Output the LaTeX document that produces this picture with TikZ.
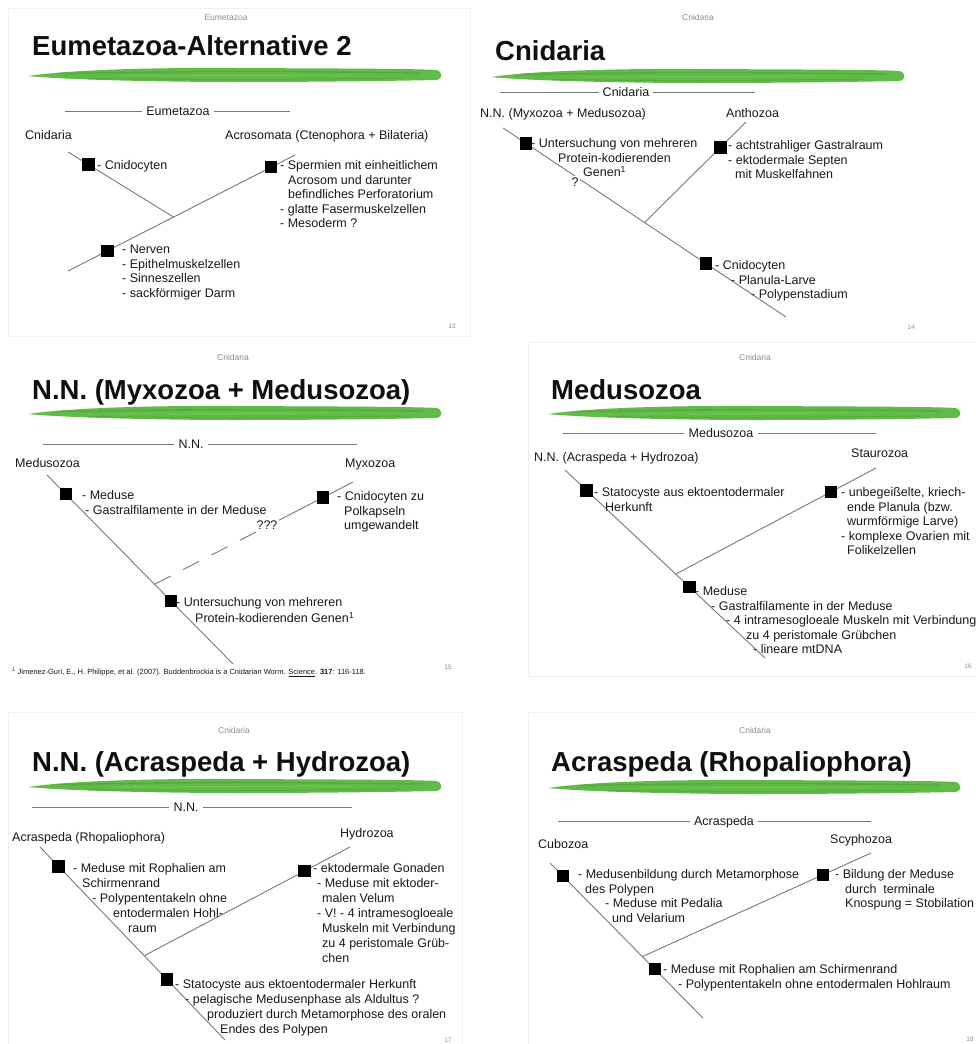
\documentclass[tikz,border=0pt]{standalone}
\usepackage{fontspec}
\setmainfont{Liberation Sans}
\usetikzlibrary{calc}
\definecolor{textc}{RGB}{25,25,25}
\definecolor{titlec}{RGB}{15,15,15}
\definecolor{linec}{RGB}{120,120,120}
\definecolor{hdrc}{RGB}{140,140,140}
\definecolor{brushg}{RGB}{98,186,72}
\definecolor{brushd}{RGB}{72,160,52}
\definecolor{brushl}{RGB}{135,205,105}
\definecolor{framec}{RGB}{240,240,240}
\newcommand\fs{\fontsize{12.5}{14.5}\selectfont}
\newcommand\brushstroke[3]{%
  \fill[brushg] (#1,#3+1) .. controls (#1+40,#3-5) and (#1+120,#3-7.5) .. ({(#1+#2)/2},#3-7) .. controls (#2-120,#3-6.5) and (#2-30,#3-6.5) .. (#2-6,#3-5) .. controls (#2+1,#3-4) and (#2+1,#3+4) .. (#2-5,#3+5) .. controls (#2-80,#3+6.5) and ({(#1+#2)/2+60},#3+7) .. ({(#1+#2)/2},#3+7) .. controls (#1+140,#3+7) and (#1+40,#3+5) .. (#1,#3+1) -- cycle;
  \draw[brushd,line width=1.4pt,opacity=.55] (#1+30,#3-1.5) .. controls ({(#1+#2)/2},#3-4) .. (#2-20,#3-2);
  \draw[brushd,line width=1pt,opacity=.5] (#1+60,#3+3.5) .. controls ({(#1+#2)/2},#3+5) .. (#2-40,#3+3);
  \draw[brushl,line width=1pt,opacity=.5] (#1+90,#3+1) -- (#2-90,#3);
}
\begin{document}
\begin{tikzpicture}[x=1pt,y=-1pt,
  txt/.style={font=\fs,text=textc,inner sep=0pt,anchor=base west,yshift=-4.5pt},
  mtxt/.style={font=\fs,text=textc,inner sep=0pt,anchor=north west,yshift=5.65pt,align=left},
  lbl/.style={font=\fs,text=textc,inner xsep=4pt,inner ysep=0pt,anchor=base,yshift=-4.5pt},
  hdr/.style={font=\fontsize{8.5}{10}\selectfont,text=hdrc,inner sep=0pt,anchor=base,yshift=-3pt},
  ttl/.style={font=\fontsize{27.5}{30}\selectfont\bfseries,text=titlec,inner sep=0pt,anchor=base west},
  pgn/.style={font=\fontsize{6.5}{8}\selectfont,text=hdrc,inner sep=0pt,anchor=base,yshift=-2.3pt},
  fnote/.style={font=\fontsize{7.5}{9}\selectfont,text=textc,inner sep=0pt,anchor=base west,yshift=-2.5pt},
  sq/.style={fill=black,minimum size=12.5pt,inner sep=0pt},
  ln/.style={draw=linec,line width=0.9pt},
  qm/.style={font=\fs,text=textc,fill=white,inner sep=1.5pt},
  slideframe/.style={draw=framec,line width=0.7pt}]
\useasboundingbox[fill=white] (0,0) rectangle (976,1044);

% faint slide frames
\draw[slideframe] (8,8) rectangle (470,336);
\draw[slideframe] (528,342) rectangle (982,676);
\draw[slideframe] (8,712) rectangle (462,1050);
\draw[slideframe] (528,712) rectangle (982,1050);

% ================= Slide 13 =================
\node[hdr] (h13) at (226,17) {Eumetazoa};
\node[ttl] (t13) at (32,55) {Eumetazoa-Alternative 2};
\brushstroke{28}{442}{75}
\coordinate (la13) at (65,111); \coordinate (lb13) at (290,111);
\node[lbl] (l13) at (178,111) {Eumetazoa};
\draw[ln] (la13) -- (la13 -| l13.west);
\draw[ln] (l13.east |- lb13) -- (lb13);
\node[txt] (c13) at (25,135) {Cnidaria};
\node[txt] (d13) at (225,135) {Acrosomata (Ctenophora + Bilateria)};
\coordinate (ma13) at (68,271); \coordinate (mb13) at (295,155);
\coordinate (j13) at ($(ma13)!(173,216)!(mb13)$);
\coordinate (ba13) at (68,152);
\draw[ln] (ma13) -- (mb13);
\draw[ln] (ba13) -- (j13);
\node[sq] (q13a) at ($(ba13)!(88,165)!(j13)$) {};
\node[sq] (q13b) at ($(ma13)!(270,165)!(mb13)$) {};
\node[sq] (q13c) at ($(ma13)!(107,250)!(mb13)$) {};
\node[txt] (e13) at (97,165) {- Cnidocyten};
\node[mtxt] (f13) at (280,165) {\strut- Spermien mit einheitlichem\\\hspace*{8pt}Acrosom und darunter\\\hspace*{8pt}befindliches Perforatorium\\- glatte Fasermuskelzellen\\- Mesoderm ?};
\node[mtxt] (g13) at (122,249) {\strut- Nerven\\- Epithelmuskelzellen\\- Sinneszellen\\- sackförmiger Darm};
\node[pgn] (p13) at (452,326) {13};

% ================= Slide 14 =================
\node[hdr] (h14) at (698,17) {Cnidaria};
\node[ttl] (t14) at (495,60) {Cnidaria};
\brushstroke{491}{905}{76}
\coordinate (la14) at (500,92); \coordinate (lb14) at (755,92);
\node[lbl] (l14) at (626,92) {Cnidaria};
\draw[ln] (la14) -- (la14 -| l14.west);
\draw[ln] (l14.east |- lb14) -- (lb14);
\node[txt] (n14) at (480,113) {N.N. (Myxozoa + Medusozoa)};
\node[txt] (a14) at (726,113) {Anthozoa};
\coordinate (ma14) at (503,128); \coordinate (mb14) at (786,317);
\coordinate (j14) at ($(ma14)!(645,222)!(mb14)$);
\coordinate (ba14) at (746,122);
\draw[ln] (ma14) -- (mb14);
\draw[ln] (ba14) -- (j14);
\node[sq] (q14a) at ($(ma14)!(525,145)!(mb14)$) {};
\node[sq] (q14b) at ($(ba14)!(718,145)!(j14)$) {};
\node[sq] (q14c) at ($(ma14)!(705,265)!(mb14)$) {};
\node[mtxt] (e14) at (531,143) {\strut- Untersuchung von mehreren\\\hspace*{27pt}Protein-kodierenden\\\hspace*{52pt}Genen\textsuperscript{1}};
\node[qm] (k14) at (575,182) {?};
\node[mtxt] (f14) at (728,145) {\strut- achtstrahliger Gastralraum\\- ektodermale Septen\\\hspace*{7pt}mit Muskelfahnen};
\node[mtxt] (g14) at (715,265) {\strut- Cnidocyten\\\hspace*{16pt}- Planula-Larve\\\hspace*{36pt}- Polypenstadium};
\node[pgn] (p14) at (911,327) {14};

% ================= Slide 15 =================
\node[hdr] (h15) at (233,357) {Cnidaria};
\node[ttl] (t15) at (32,399) {N.N. (Myxozoa + Medusozoa)};
\brushstroke{28}{442}{413}
\coordinate (la15) at (43,444); \coordinate (lb15) at (357,444);
\node[lbl] (l15) at (191,444) {N.N.};
\draw[ln] (la15) -- (la15 -| l15.west);
\draw[ln] (l15.east |- lb15) -- (lb15);
\node[txt] (c15) at (15,463) {Medusozoa};
\node[txt] (d15) at (345,463) {Myxozoa};
\coordinate (ma15) at (47,475); \coordinate (mb15) at (233,664);
\coordinate (j15) at ($(ma15)!(157,582)!(mb15)$);
\coordinate (ba15) at (353,482);
\coordinate (bm15) at ($(ba15)!0.36!(j15)$);
\draw[ln] (ma15) -- (mb15);
\draw[ln] (ba15) -- (bm15);
\draw[ln,dash pattern=on 18pt off 14pt] (j15) -- (bm15);
\node[qm] (k15) at (267,525) {???};
\node[sq] (q15a) at ($(ma15)!(65,495)!(mb15)$) {};
\node[sq] (q15b) at ($(ba15)!(322,495)!(j15)$) {};
\node[sq] (q15c) at ($(ma15)!(170,602)!(mb15)$) {};
\node[mtxt] (e15) at (82,495) {\strut- Meduse\\\hspace*{3pt}- Gastralfilamente in der Meduse};
\node[mtxt] (f15) at (337,496) {\strut- Cnidocyten zu\\\hspace*{7pt}Polkapseln\\\hspace*{7pt}umgewandelt};
\node[mtxt] (g15) at (176,602) {\strut- Untersuchung von mehreren\\\hspace*{19pt}Protein-kodierenden Genen\textsuperscript{1}};
\node[fnote] (fn15) at (12,672) {\textsuperscript{1} Jimenez-Guri, E., H. Philippe, et al. (2007). Buddenbrockia is a Cnidarian Worm. \underline{Science}. \textbf{317}: 116-118.};
\node[pgn] (p15) at (448,667) {15};

% ================= Slide 16 =================
\node[hdr] (h16) at (755,357) {Cnidaria};
\node[ttl] (t16) at (551,399) {Medusozoa};
\brushstroke{548}{961}{413}
\coordinate (la16) at (563,433); \coordinate (lb16) at (876,433);
\node[lbl] (l16) at (721,433) {Medusozoa};
\draw[ln] (la16) -- (la16 -| l16.west);
\draw[ln] (l16.east |- lb16) -- (lb16);
\node[txt] (c16) at (534,457) {N.N. (Acraspeda + Hydrozoa)};
\node[txt] (d16) at (851,453) {Staurozoa};
\coordinate (ma16) at (565,470); \coordinate (mb16) at (765,658);
\coordinate (j16) at ($(ma16)!(673,577)!(mb16)$);
\coordinate (ba16) at (876,468);
\draw[ln] (ma16) -- (mb16);
\draw[ln] (ba16) -- (j16);
\node[sq] (q16a) at ($(ma16)!(585,492)!(mb16)$) {};
\node[sq] (q16b) at ($(ba16)!(831,492)!(j16)$) {};
\node[sq] (q16c) at ($(ma16)!(685,592)!(mb16)$) {};
\node[mtxt] (e16) at (594,492) {\strut- Statocyste aus ektoentodermaler\\\hspace*{11pt}Herkunft};
\node[mtxt] (f16) at (841,492) {\strut- unbegeißelte, kriech-\\\hspace*{6pt}ende Planula (bzw.\\\hspace*{6pt}wurmförmige Larve)\\- komplexe Ovarien mit\\\hspace*{6pt}Folikelzellen};
\node[mtxt] (g16) at (695,591) {\strut- Meduse\\\hspace*{16pt}- Gastralfilamente in der Meduse\\\hspace*{31pt}- 4 intramesogloeale Muskeln mit Verbindung\\\hspace*{51pt}zu 4 peristomale Grübchen\\\hspace*{58pt}- lineare mtDNA};
\node[pgn] (p16) at (968,666) {16};

% ================= Slide 17 =================
\node[hdr] (h17) at (234,730) {Cnidaria};
\node[ttl] (t17) at (32,771) {N.N. (Acraspeda + Hydrozoa)};
\brushstroke{28}{442}{786}
\coordinate (la17) at (32,807); \coordinate (lb17) at (352,807);
\node[lbl] (l17) at (186,807) {N.N.};
\draw[ln] (la17) -- (la17 -| l17.west);
\draw[ln] (l17.east |- lb17) -- (lb17);
\node[txt] (c17) at (12,837) {Acraspeda (Rhopaliophora)};
\node[txt] (d17) at (340,833) {Hydrozoa};
\coordinate (ma17) at (40,847); \coordinate (mb17) at (225,1040);
\coordinate (j17) at ($(ma17)!(145,955)!(mb17)$);
\coordinate (ba17) at (350,847);
\draw[ln] (ma17) -- (mb17);
\draw[ln] (ba17) -- (j17);
\node[sq] (q17a) at ($(ma17)!(58,867)!(mb17)$) {};
\node[sq] (q17b) at ($(ba17)!(303,868)!(j17)$) {};
\node[sq] (q17c) at ($(ma17)!(163,983)!(mb17)$) {};
\node[mtxt,font=\fontsize{12.5}{15}\selectfont] (e17) at (73,867) {\strut- Meduse mit Rophalien am\\\hspace*{9pt}Schirmenrand\\\hspace*{19pt}- Polypententakeln ohne\\\hspace*{40pt}entodermalen Hohl-\\\hspace*{55pt}raum};
\node[mtxt,font=\fontsize{12.5}{15}\selectfont] (f17) at (313,867) {\strut- ektodermale Gonaden\\\hspace*{4pt}- Meduse mit ektoder-\\\hspace*{9pt}malen Velum\\\hspace*{4pt}- V! - 4 intramesogloeale\\\hspace*{9pt}Muskeln mit Verbindung\\\hspace*{9pt}zu 4 peristomale Grüb-\\\hspace*{9pt}chen};
\node[mtxt,font=\fontsize{12.5}{15}\selectfont] (g17) at (175,983) {\strut- Statocyste aus ektoentodermaler Herkunft\\\hspace*{10pt}- pelagische Medusenphase als Aldultus ?\\\hspace*{32pt}produziert durch Metamorphose des oralen\\\hspace*{45pt}Endes des Polypen};
\node[pgn] (p17) at (448,1040) {17};

% ================= Slide 18 =================
\node[hdr] (h18) at (755,730) {Cnidaria};
\node[ttl] (t18) at (551,771) {Acraspeda (Rhopaliophora)};
\brushstroke{548}{961}{787}
\coordinate (la18) at (558,821); \coordinate (lb18) at (871,821);
\node[lbl] (l18) at (724,821) {Acraspeda};
\draw[ln] (la18) -- (la18 -| l18.west);
\draw[ln] (l18.east |- lb18) -- (lb18);
\node[txt] (c18) at (538,844) {Cubozoa};
\node[txt] (d18) at (830,839) {Scyphozoa};
\coordinate (ma18) at (550,863); \coordinate (mb18) at (703,1018);
\coordinate (j18) at ($(ma18)!(643,956)!(mb18)$);
\coordinate (ba18) at (871,853);
\draw[ln] (ma18) -- (mb18);
\draw[ln] (ba18) -- (j18);
\node[sq] (q18a) at ($(ma18)!(564,875)!(mb18)$) {};
\node[sq] (q18b) at ($(ba18)!(823,875)!(j18)$) {};
\node[sq] (q18c) at ($(ma18)!(655,969)!(mb18)$) {};
\node[mtxt] (e18) at (578,874) {\strut- Medusenbildung durch Metamorphose\\\hspace*{7pt}des Polypen\\\hspace*{27pt}- Meduse mit Pedalia\\\hspace*{34pt}und Velarium};
\node[mtxt] (f18) at (835,874) {\strut- Bildung der Meduse\\\hspace*{10pt}durch\ \ terminale\\\hspace*{10pt}Knospung = Stobilation};
\node[mtxt] (g18) at (663,969) {\strut- Meduse mit Rophalien am Schirmenrand\\\hspace*{15pt}- Polypententakeln ohne entodermalen Hohlraum};
\node[pgn] (p18) at (970,1039) {18};
\end{tikzpicture}
\end{document}
